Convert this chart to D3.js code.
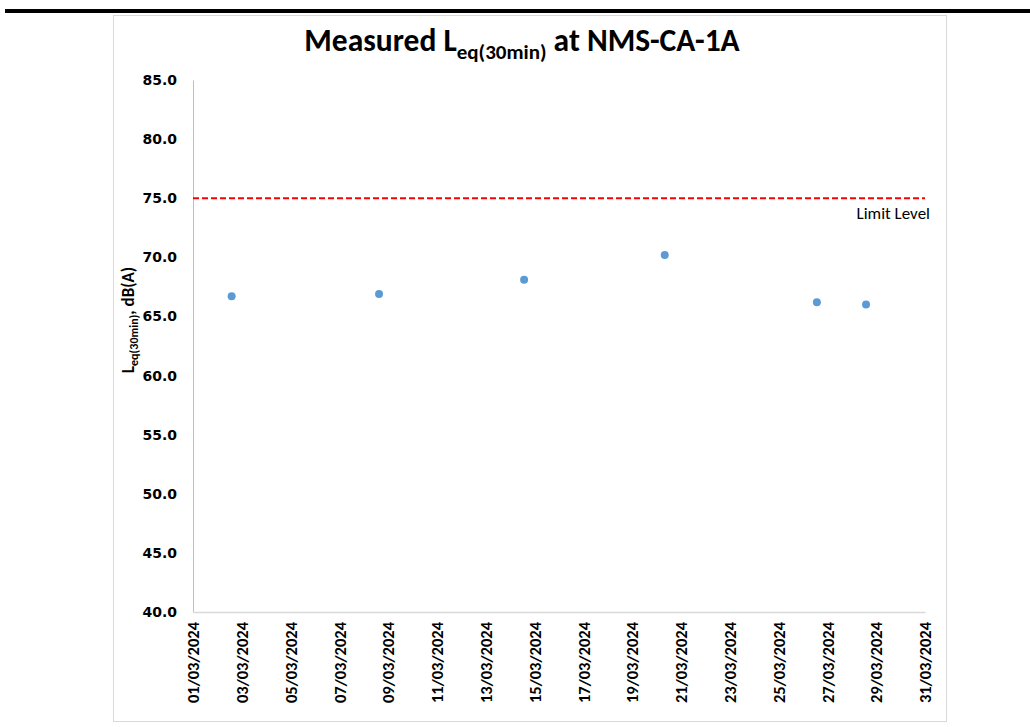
<!DOCTYPE html>
<html>
<head>
<meta charset="utf-8">
<script src="https://cdn.jsdelivr.net/npm/d3@7"></script>
<style>
  body { margin: 0; background: #fff; }
  svg { display: block; }
  .tick text { fill: #000; }
</style>
</head>
<body>
<svg width="1030" height="727"></svg>
<script>
'use strict';

// measured points (date + time)
const times = ["2024-03-02T14:00", "2024-03-08T15:00", "2024-03-14T13:40",
               "2024-03-20T08:00", "2024-03-26T13:40", "2024-03-28T14:00"];
const levels = [66.7, 66.9, 68.1, 70.2, 66.2, 66.0];
const limitLevel = 75;
const yTicks = [40, 45, 50, 55, 60, 65, 70, 75, 80, 85];

let svg = d3.select("svg");
let parse = d3.timeParse("%Y-%m-%dT%H:%M");
let data = times.map(function (t, i) {
    return {date: parse(t), value: levels[i]};
});

let plotLeft = 193, plotRight = 925, plotTop = 80, plotBottom = 612;
let narrow = "Carlito, 'Liberation Sans Narrow', 'Open Sans', sans-serif";

let x = d3.scaleTime()
    .domain([new Date(2024, 2, 1), new Date(2024, 2, 31)])
    .range([plotLeft, plotRight]);
let y = d3.scaleLinear().domain([40, 85]).range([plotBottom, plotTop]);

// top rule and chart frame
svg.append("rect").attr("x", 5).attr("y", 9).attr("width", 1025).attr("height", 4).attr("fill", "#000");
svg.append("rect").attr("x", 113.5).attr("y", 15.5).attr("width", 833).attr("height", 706)
    .attr("fill", "none").attr("stroke", "#d9d9d9");

// y axis
let yAxis = svg.append("g")
    .attr("transform", "translate(" + plotLeft + ",0)")
    .call(d3.axisLeft(y).tickValues(yTicks).tickSize(0).tickPadding(16).tickFormat(d3.format(".1f")));
yAxis.select(".domain").attr("stroke", "#bfbfbf");
yAxis.selectAll("text")
    .style("font-family", "'DejaVu Sans', Verdana, sans-serif")
    .style("font-weight", "bold").style("font-size", "14px");

// x axis
let xAxis = svg.append("g")
    .attr("transform", "translate(0," + plotBottom + ")")
    .call(d3.axisBottom(x).ticks(d3.timeDay.every(2)).tickSize(0).tickFormat(d3.timeFormat("%d/%m/%Y")));
xAxis.select(".domain").attr("stroke", "#d9d9d9").attr("stroke-width", 1.5);
xAxis.selectAll("text")
    .attr("transform", "rotate(-90)")
    .attr("text-anchor", "end")
    .attr("x", -10).attr("y", 0).attr("dy", "0.35em")
    .style("font-family", narrow)
    .style("font-weight", "bold").style("font-size", "16.5px");

// limit line
svg.append("line")
    .attr("x1", plotLeft).attr("x2", plotRight)
    .attr("y1", y(limitLevel)).attr("y2", y(limitLevel))
    .attr("stroke", "#ff0000").attr("stroke-width", 2).attr("stroke-dasharray", "6,3");
svg.append("text")
    .attr("x", 930).attr("y", y(limitLevel) + 21)
    .attr("text-anchor", "end")
    .style("font-family", narrow).style("font-size", "17px")
    .text("Limit Level");

// points
svg.selectAll(".dot").data(data).enter().append("circle")
    .attr("class", "dot")
    .attr("cx", function (d) { return x(d.date); })
    .attr("cy", function (d) { return y(d.value); })
    .attr("r", 4)
    .attr("fill", "#5b9bd5");

// title
let title = svg.append("text")
    .attr("x", 522).attr("y", 51)
    .attr("text-anchor", "middle")
    .style("font-family", narrow).style("font-weight", "bold").style("font-size", "31.5px");
title.append("tspan").text("Measured L");
title.append("tspan").attr("dy", 8).style("font-size", "21px").text("eq(30min)");
title.append("tspan").attr("dy", -8).text(" at NMS-CA-1A");

// y axis title
let yt = svg.append("text")
    .attr("transform", "translate(134,320) rotate(-90)")
    .attr("text-anchor", "middle")
    .style("font-family", narrow).style("font-weight", "bold").style("font-size", "17px");
yt.append("tspan").text("L");
yt.append("tspan").attr("dy", 4).style("font-size", "12px").text("eq(30min)");
yt.append("tspan").attr("dy", -4).text(", dB(A)");
</script>
</body>
</html>
